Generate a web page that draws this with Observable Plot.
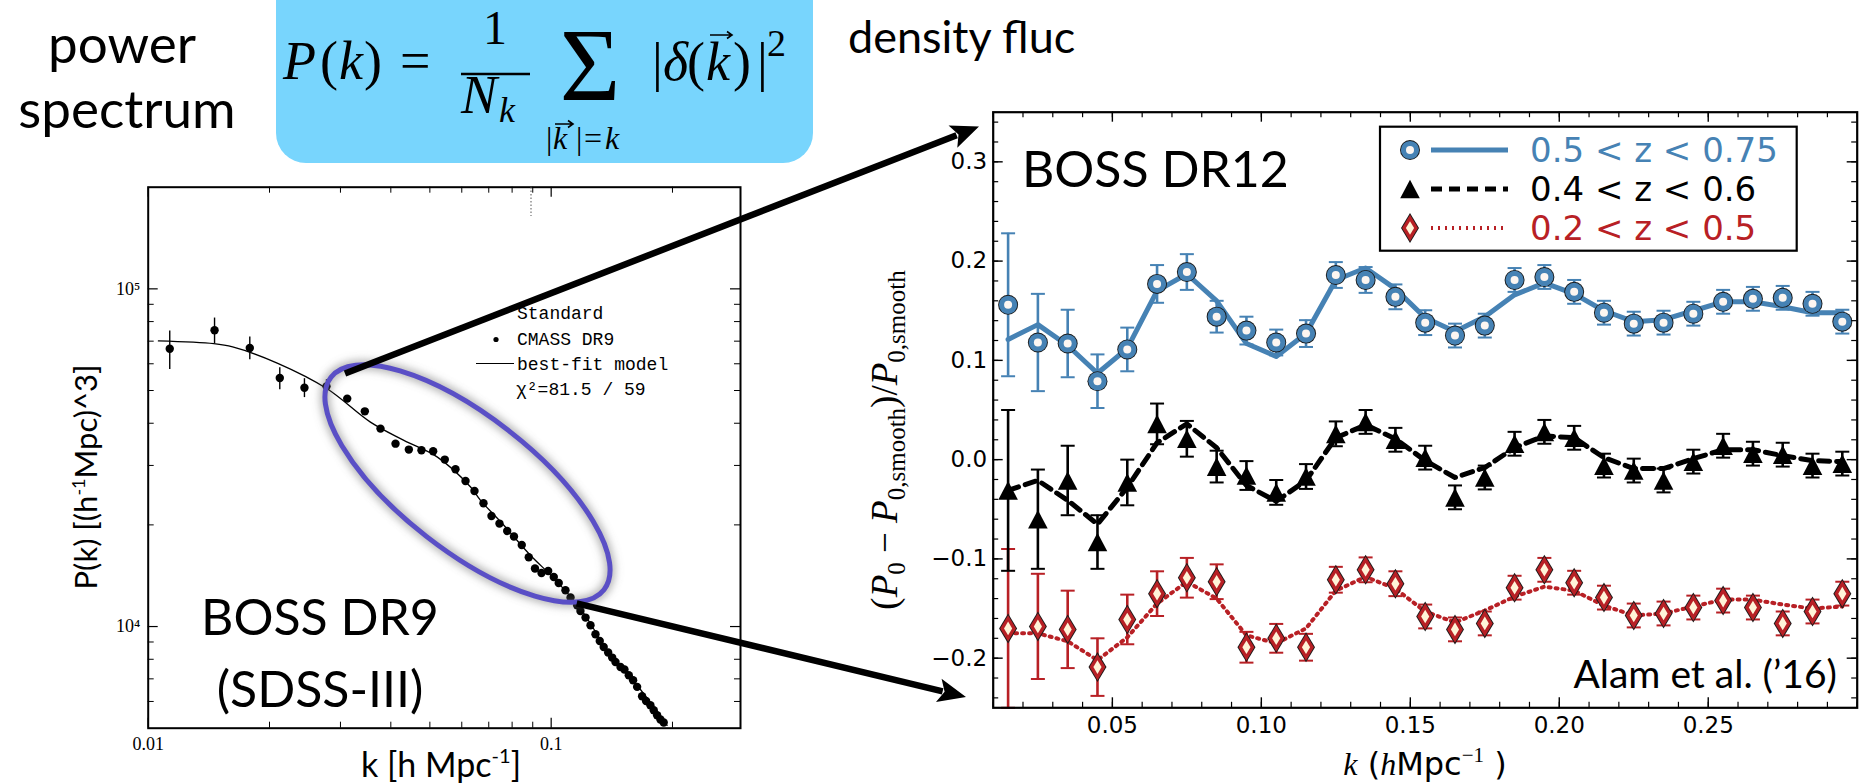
<!DOCTYPE html>
<html>
<head>
<meta charset="utf-8">
<script src="https://cdn.jsdelivr.net/npm/d3@7"></script>
<script src="https://cdn.jsdelivr.net/npm/@observablehq/plot@0.6"></script>
<style>
html, body { margin:0; padding:0; background:#fff; }
#root { position:relative; width:1859px; height:784px; overflow:hidden; background:#fff; }
.panel { position:absolute; top:0; }
.panel svg { display:block; max-width:none !important; }
#overlay { position:absolute; left:0; top:0; }
</style>
</head>
<body>
<div id="root"></div>
<script>
// ================= DATA =================
// Right panel: BOSS DR12 BAO residuals
const bossK = [0.015,0.025,0.035,0.045,0.055,0.065,0.075,0.085,0.095,0.105,0.115,0.125,0.135,0.145,0.155,0.165,0.175,0.185,0.195,0.205,0.215,0.225,0.235,0.245,0.255,0.265,0.275,0.285,0.295];

const highZVal   = [0.156,0.118,0.117,0.079,0.111,0.177,0.189,0.144,0.130,0.118,0.127,0.186,0.181,0.164,0.138,0.125,0.135,0.181,0.184,0.169,0.148,0.137,0.138,0.147,0.159,0.162,0.163,0.157,0.139];
const highZErr   = [0.072,0.049,0.034,0.027,0.022,0.019,0.018,0.016,0.014,0.013,0.0135,0.013,0.013,0.0125,0.0125,0.012,0.012,0.012,0.012,0.012,0.012,0.012,0.012,0.012,0.012,0.012,0.012,0.012,0.012];
const highZModel = [0.121,0.136,0.115,0.087,0.112,0.170,0.187,0.160,0.117,0.104,0.127,0.181,0.193,0.172,0.143,0.129,0.144,0.166,0.178,0.167,0.150,0.139,0.141,0.150,0.159,0.159,0.154,0.148,0.148];

const midZVal   = [-0.031,-0.060,-0.021,-0.083,-0.023,0.036,0.021,-0.007,-0.016,-0.033,-0.017,0.026,0.038,0.020,0.002,-0.038,-0.018,0.016,0.028,0.022,-0.006,-0.011,-0.021,-0.002,0.014,0.006,0.005,-0.006,-0.004];
const midZErr   = [0.081,0.050,0.035,0.027,0.023,0.0205,0.018,0.016,0.0145,0.0125,0.0125,0.0125,0.012,0.012,0.012,0.012,0.012,0.012,0.012,0.012,0.012,0.012,0.012,0.012,0.012,0.012,0.012,0.012,0.012];
const midZModel = [-0.031,-0.021,-0.041,-0.065,-0.028,0.017,0.036,0.012,-0.026,-0.042,-0.021,0.022,0.035,0.021,-0.001,-0.018,-0.008,0.012,0.024,0.022,0.002,-0.009,-0.009,0.001,0.010,0.010,0.004,-0.001,-0.002];

const lowZVal   = [-0.170,-0.168,-0.171,-0.209,-0.161,-0.135,-0.119,-0.123,-0.189,-0.180,-0.189,-0.121,-0.111,-0.125,-0.158,-0.171,-0.165,-0.129,-0.111,-0.124,-0.139,-0.157,-0.155,-0.149,-0.142,-0.149,-0.165,-0.153,-0.135];
const lowZErr   = [0.080,0.053,0.039,0.029,0.025,0.0225,0.020,0.0175,0.0155,0.0145,0.0135,0.013,0.0125,0.0125,0.012,0.012,0.012,0.012,0.012,0.012,0.012,0.012,0.012,0.012,0.012,0.012,0.012,0.012,0.012];
const lowZModel = [-0.175,-0.175,-0.183,-0.202,-0.179,-0.145,-0.123,-0.140,-0.177,-0.185,-0.170,-0.132,-0.118,-0.130,-0.153,-0.164,-0.152,-0.138,-0.128,-0.132,-0.147,-0.157,-0.155,-0.148,-0.141,-0.141,-0.146,-0.150,-0.148];

const seriesNames  = ["0.5 < z < 0.75", "0.4 < z < 0.6", "0.2 < z < 0.5"];
const rightXTicks  = [0.05, 0.10, 0.15, 0.20, 0.25];
const rightYTicks  = [-0.2, -0.1, 0.0, 0.1, 0.2, 0.3];

// Left panel: BOSS DR9 CMASS power spectrum
const dr9K = [0.01131,0.01461,0.01787,0.02121,0.02442,0.02770,0.03118,0.03448,0.03771,0.04109,0.04434,0.04766,0.05095,0.05445,0.05788,0.06130,0.06452,0.06792,0.07110,0.07442,0.07778,0.08085,0.08453,0.08798,0.09116,0.09462,0.09831,0.1015,0.1044,0.1085,0.1117,0.1160,0.1182,0.1217,0.1252,0.1288,0.1320,0.1350,0.1385,0.1417,0.1444,0.1486,0.1520,0.1558,0.1597,0.1634,0.1681,0.1720,0.1763,0.1797,0.1832,0.1867,0.1902];
const dr9P = [66500,75400,66800,54450,50970,51430,47310,43380,38560,34800,33420,33260,33030,31220,29220,26980,25200,23170,21240,20180,19190,18470,17430,16040,14850,14410,14610,14020,13460,12810,12190,11560,11120,10630,10090,9488,9065,8700,8375,8093,7854,7592,7459,7177,6935,6628,6217,6021,5848,5652,5462,5305,5198];
const dr9ErrK  = [0.01131,0.01461,0.01787,0.02121,0.02442,0.02770];
const dr9ErrLo = [57700,68900,61700,50300,47640,48940];
const dr9ErrHi = [75000,81950,72000,58430,54200,53830];
const modelK = [0.0106,0.01455,0.0162,0.0209,0.0278,0.0356,0.0431,0.0521,0.0631,0.0668,0.0763,0.0888,0.1015,0.1182,0.1385,0.1573,0.194];
const modelP = [70100,68800,67300,60300,50600,40300,35600,31800,25900,23650,19950,16260,13900,11300,8450,7100,5100];
const leftXTicks = [0.01, 0.1];
const leftXTickLabels = ["0.01", "0.1"];
const leftYTicks = [1e4, 1e5];
const leftYTickLabels = ["10\u2074", "10\u2075"];
const leftXMinor = [0.02,0.03,0.04,0.05,0.06,0.07,0.08,0.09,0.2];
const leftYMinor = [6000,7000,8000,9000,20000,30000,40000,50000,60000,70000,80000,90000];

// ================= STYLE =================
const GILL  = "Lato, 'Open Sans', sans-serif";
const SERIF = "'Liberation Serif', 'DejaVu Serif', serif";
const MONO  = "'Liberation Mono', 'DejaVu Sans Mono', monospace";
const DEJAVU = "'DejaVu Sans', sans-serif";
const BLUE = "#4682b4", RED = "#b82025", BLACK = "#000";

function makeSymbol(fn){ return { draw(ctx, size){ fn(ctx, Math.sqrt(size / Math.PI)); } }; }
const triangleUp  = makeSymbol((c,r)=>{ c.moveTo(0,-0.95*r); c.lineTo(r,0.95*r); c.lineTo(-r,0.95*r); c.closePath(); });
const thinDiamond = makeSymbol((c,r)=>{ c.moveTo(0,-r); c.lineTo(0.6*r,0); c.lineTo(0,r); c.lineTo(-0.6*r,0); c.closePath(); });
const capBar      = makeSymbol((c,r)=>{ c.moveTo(-r,0); c.lineTo(r,0); });

const seriesStyles = [
  {color: BLUE, lineWidth: 5, dash: null,
   layers: [{symbol: "circle", r: 10, fill: "#1a1a1a"}, {symbol: "circle", r: 9.1, fill: BLUE}, {symbol: "circle", r: 4, fill: "#fdf6f1"}]},
  {color: BLACK, lineWidth: 5, dash: "11 7",
   layers: [{symbol: triangleUp, r: 9.8, fill: "#000"}]},
  {color: RED, lineWidth: 4, dash: "2 5",
   layers: [{symbol: thinDiamond, r: 15, fill: "#1a1a1a"}, {symbol: thinDiamond, r: 13.2, fill: RED}, {symbol: thinDiamond, r: 6.8, fill: "#fff4d8"}]}
];

function rowsOf(vals, errs, model){
  return bossK.map((k,i)=>({k, v: vals[i], lo: vals[i]-errs[i], hi: vals[i]+errs[i], m: model[i]}));
}
const seriesRows = [rowsOf(highZVal, highZErr, highZModel), rowsOf(midZVal, midZErr, midZModel), rowsOf(lowZVal, lowZErr, lowZModel)];

function seriesMarks(rows, s){
  const marks = [
    Plot.line(rows, {x:"k", y:"m", stroke:s.color, strokeWidth:s.lineWidth, strokeDasharray:s.dash}),
    Plot.ruleX(rows, {x:"k", y1:"lo", y2:"hi", stroke:s.color, strokeWidth:2.6}),
    Plot.dot(rows, {x:"k", y:"lo", symbol:capBar, r:7, stroke:s.color, strokeWidth:2, fill:"none"}),
    Plot.dot(rows, {x:"k", y:"hi", symbol:capBar, r:7, stroke:s.color, strokeWidth:2, fill:"none"})
  ];
  s.layers.forEach(L => marks.push(Plot.dot(rows, {x:"k", y:"v", symbol:L.symbol, r:L.r, fill:L.fill, stroke:"none"})));
  return marks;
}

function edgeTicksX(values, len, innerH, sw){
  return [Plot.tickX(values, {x:d=>d, insetBottom: innerH-len, stroke:"black", strokeWidth:sw}),
          Plot.tickX(values, {x:d=>d, insetTop: innerH-len, stroke:"black", strokeWidth:sw})];
}
function edgeTicksY(values, len, innerW, sw){
  return [Plot.tickY(values, {y:d=>d, insetRight: innerW-len, stroke:"black", strokeWidth:sw}),
          Plot.tickY(values, {y:d=>d, insetLeft: innerW-len, stroke:"black", strokeWidth:sw})];
}

const root = document.getElementById("root");

// ================= LEFT PANEL =================
{
  const W = 760, H = 784, ML = 147.7, MR = 20, MT = 186.7, MB = 56.3;
  const iw = W-ML-MR, ih = H-MT-MB;
  const pts = dr9K.map((k,i)=>({k, p: dr9P[i]}));
  const errs = dr9ErrK.map((k,i)=>({k, lo: dr9ErrLo[i], hi: dr9ErrHi[i]}));
  const model = modelK.map((k,i)=>({k, p: modelP[i]}));
  const plot = Plot.plot({
    width: W, height: H, marginLeft: ML, marginRight: MR, marginTop: MT, marginBottom: MB,
    style: {background: "transparent", overflow: "visible"},
    x: {type: "log", domain: [0.01, 0.295]},
    y: {type: "log", domain: [5000, 200000]},
    marks: [
      Plot.line(model, {x:"k", y:"p", stroke:"black", strokeWidth:1.3, curve:"catmull-rom"}),
      Plot.ruleX(errs, {x:"k", y1:"lo", y2:"hi", stroke:"black", strokeWidth:1.4}),
      Plot.dot(pts, {x:"k", y:"p", r:4.2, fill:"black", stroke:"none"}),
      ...edgeTicksX(leftXMinor, 6, ih, 1),
      ...edgeTicksX(leftXTicks, 10, ih, 1.2),
      ...edgeTicksY(leftYMinor, 6, iw, 1),
      ...edgeTicksY(leftYTicks, 10, iw, 1.2),
      Plot.frame({stroke:"black", strokeWidth:2}),
      Plot.axisX({ticks: leftXTicks, tickSize: 0, tickPadding: 9, tickFormat: d => leftXTickLabels[leftXTicks.indexOf(d)], fontSize: 18, fontFamily: SERIF, fill: "black", label: null}),
      Plot.axisY({ticks: leftYTicks, tickSize: 0, tickPadding: 8, tickFormat: d => leftYTickLabels[leftYTicks.indexOf(d)], fontSize: 18, fontFamily: SERIF, fill: "black", label: null})
    ]
  });
  const div = document.createElement("div");
  div.className = "panel"; div.style.left = "0px"; div.style.width = W + "px";
  div.appendChild(plot); root.appendChild(div);
}

// ================= RIGHT PANEL =================
{
  const L = 900, W = 959, H = 784, ML = 92.7, MR = 2.3, MT = 111.7, MB = 76.7;
  const iw = W-ML-MR, ih = H-MT-MB;
  const xMinor = d3.range(1, 31).map(i => i/100);
  const yMinor = d3.range(-12, 18).map(i => i/50);
  const plot = Plot.plot({
    width: W, height: H, marginLeft: ML, marginRight: MR, marginTop: MT, marginBottom: MB,
    style: {background: "transparent", overflow: "visible"},
    x: {domain: [0.01, 0.30]},
    y: {domain: [-0.25, 0.35]},
    marks: [
      ...seriesMarks(seriesRows[2], seriesStyles[2]),
      ...seriesMarks(seriesRows[1], seriesStyles[1]),
      ...seriesMarks(seriesRows[0], seriesStyles[0]),
      ...edgeTicksX(xMinor, 5.5, ih, 1.2),
      ...edgeTicksX(rightXTicks, 10, ih, 1.4),
      ...edgeTicksY(yMinor, 5.5, iw, 1.2),
      ...edgeTicksY(rightYTicks, 10, iw, 1.4),
      Plot.frame({stroke:"black", strokeWidth:2.2}),
      Plot.axisX({ticks: rightXTicks, tickSize: 0, tickPadding: 9, tickFormat: d3.format(".2f"), fontSize: 23, fontFamily: DEJAVU, fill: "black", label: null}),
      Plot.axisY({ticks: rightYTicks, tickSize: 0, tickPadding: 6, tickFormat: d3.format(".1f"), fontSize: 23, fontFamily: DEJAVU, fill: "black", label: null})
    ]
  });
  const div = document.createElement("div");
  div.className = "panel"; div.style.left = L + "px"; div.style.width = W + "px";
  div.appendChild(plot); root.appendChild(div);
}

// ================= OVERLAY (slide annotations) =================
const ov = d3.select(root).append("svg").attr("id","overlay").attr("width",1859).attr("height",784);
const defs = ov.append("defs");
defs.append("filter").attr("id","blur").attr("x","-20%").attr("y","-20%").attr("width","140%").attr("height","140%")
  .append("feGaussianBlur").attr("stdDeviation", 4);

function T(x, y, html, attrs = {}) {
  const t = ov.append("text").attr("x", x).attr("y", y).html(html);
  Object.entries(attrs).forEach(([k,v]) => t.attr(k, v));
  return t;
}
function vecArrow(x0, x1, y){
  ov.append("path").attr("d", `M${x0},${y}L${x1},${y}M${x1-5},${y-3.5}L${x1},${y}L${x1-5},${y+3.5}`)
    .attr("stroke","black").attr("stroke-width",1.6).attr("fill","none");
}

// formula box
ov.append("rect").attr("x",276).attr("y",-30).attr("width",537).attr("height",193).attr("rx",30).attr("fill","#78d5fd");

// "power spectrum" / "density fluc"
T(122, 63, "power", {"font-family":GILL, "font-size":53, "text-anchor":"middle"});
T(127, 128, "spectrum", {"font-family":GILL, "font-size":53, "text-anchor":"middle"});
T(848, 53, "density fluc", {"font-family":GILL, "font-size":45});

// formula P(k) = 1/N_k sum |delta(k)|^2
const F = {"font-family":SERIF, "font-size":54};
T(283, 79, `<tspan font-style="italic">P</tspan>`, F);
T(320, 79, `(`, F);
T(339, 79, `<tspan font-style="italic">k</tspan>`, F);
T(364, 79, `)`, F);
T(400, 79, `=`, F);
T(495, 44, `1`, {"font-family":SERIF, "font-size":48, "text-anchor":"middle"});
ov.append("line").attr("x1",461).attr("x2",530).attr("y1",74).attr("y2",74).attr("stroke","black").attr("stroke-width",2.4);
T(461, 113, `<tspan font-style="italic">N</tspan>`, F);
T(499, 122, `<tspan font-style="italic">k</tspan>`, {"font-family":SERIF, "font-size":36});
T(590, 100, `\u03A3`, {"font-family":SERIF, "font-size":104, "text-anchor":"middle"});
const S = {"font-family":SERIF, "font-size":32};
T(546, 149, `|`, S);
T(553, 149, `<tspan font-style="italic">k</tspan>`, S);
vecArrow(555, 573, 124);
T(576, 149, `|`, S);
T(584, 149, `=`, S);
T(605, 149, `<tspan font-style="italic">k</tspan>`, S);
T(652, 80, `|`, F);
T(663, 80, `<tspan font-style="italic">\u03B4</tspan>`, F);
T(687, 80, `(`, F);
T(706, 80, `<tspan font-style="italic">k</tspan>`, F);
vecArrow(710, 732, 35);
T(733, 80, `)`, F);
T(757, 80, `|`, F);
T(767, 56, `2`, {"font-family":SERIF, "font-size":38});

// ellipse with soft shadow
const E = {cx: 467.5, cy: 483.5, rx: 173, ry: 67, rot: 37.9};
ov.append("ellipse").attr("cx",E.cx).attr("cy",E.cy).attr("rx",E.rx).attr("ry",E.ry)
  .attr("transform",`rotate(${E.rot} ${E.cx} ${E.cy})`).attr("fill","none").attr("stroke","#666").attr("stroke-opacity",0.55)
  .attr("stroke-width",9).attr("filter","url(#blur)");
ov.append("ellipse").attr("cx",E.cx).attr("cy",E.cy).attr("rx",E.rx).attr("ry",E.ry)
  .attr("transform",`rotate(${E.rot} ${E.cx} ${E.cy})`).attr("fill","none").attr("stroke","#5a4fc6").attr("stroke-width",5);

// arrows
function arrow(x0, y0, x1, y1){
  const dx = x1-x0, dy = y1-y0, len = Math.hypot(dx, dy), ux = dx/len, uy = dy/len, nx = -uy, ny = ux;
  const hl = 28, hw = 12;
  const bx = x1 - ux*hl, by = y1 - uy*hl;
  ov.append("line").attr("x1",x0).attr("y1",y0).attr("x2",bx+ux*4).attr("y2",by+uy*4).attr("stroke","black").attr("stroke-width",6.5);
  ov.append("path").attr("d",`M${x1},${y1}L${bx+nx*hw},${by+ny*hw}L${bx+ux*6},${by+uy*6}L${bx-nx*hw},${by-ny*hw}Z`).attr("fill","black");
}
arrow(345, 373.5, 979, 126.5);
arrow(576.7, 603.3, 966, 697);

// small dotted marker at top of the left frame
ov.append("line").attr("x1",531).attr("x2",531).attr("y1",187).attr("y2",216).attr("stroke","#555").attr("stroke-width",1).attr("stroke-dasharray","1.5 2");

// left panel legend (in-chart)
const M = {"font-family":MONO, "font-size":18};
T(517, 319, "Standard", M);
ov.append("circle").attr("cx",496).attr("cy",339.5).attr("r",2.6).attr("fill","black");
T(517, 345, "CMASS DR9", M);
ov.append("line").attr("x1",476).attr("x2",514).attr("y1",363.5).attr("y2",363.5).attr("stroke","black").attr("stroke-width",1.2);
T(517, 370, "best-fit model", M);
T(516, 395, "\u03C7\u00B2=81.5 / 59", M);

// left panel labels
T(320, 635, "BOSS DR9", {"font-family":GILL, "font-size":50, "text-anchor":"middle"});
T(320, 707, "(SDSS-III)", {"font-family":GILL, "font-size":50, "text-anchor":"middle"});
T(441, 777, `k [h Mpc<tspan font-size="20" dy="-14">-1</tspan><tspan dy="14">]</tspan>`, {"font-family":GILL, "font-size":34, "text-anchor":"middle"});
T(0, 0, `P(k)  [(h<tspan font-size="18" dy="-12">-1</tspan><tspan dy="12">Mpc)^3]</tspan>`,
  {"font-family":GILL, "font-size":31, "text-anchor":"middle", transform:"translate(97,477) rotate(-90)"});

// right panel labels
T(1022, 187, "BOSS DR12", {"font-family":GILL, "font-size":50});
T(1837, 688, "Alam et al. (\u201916)", {"font-family":GILL, "font-size":39, "text-anchor":"end"});
T(0, 0, `(<tspan font-style="italic">P</tspan><tspan font-size="25" dy="8">0</tspan><tspan dy="-8"> \u2212 </tspan><tspan font-style="italic">P</tspan><tspan font-size="25" dy="8">0,smooth</tspan><tspan dy="-8">)/</tspan><tspan font-style="italic">P</tspan><tspan font-size="25" dy="8">0,smooth</tspan>`,
  {"font-family":SERIF, "font-size":37, "text-anchor":"middle", transform:"translate(897,440) rotate(-90)"});
T(1425, 775, `<tspan font-family="${SERIF}" font-style="italic">k</tspan> (<tspan font-family="${SERIF}" font-style="italic">h</tspan>Mpc<tspan font-family="${SERIF}" font-size="21" dy="-13">\u22121</tspan><tspan dy="13"> )</tspan>`,
  {"font-family":DEJAVU, "font-size":32, "text-anchor":"middle"});

// right panel legend
{
  const bx = 1380, by = 126.7, bw = 416.7, bh = 124;
  ov.append("rect").attr("x",bx).attr("y",by).attr("width",bw).attr("height",bh).attr("fill","white").attr("stroke","black").attr("stroke-width",2.2);
  const rowY = [150, 189, 228];
  const textColors = [BLUE, BLACK, RED];
  seriesStyles.forEach((s, i) => {
    const y = rowY[i];
    const ln = ov.append("line").attr("x1",1431).attr("x2",1508).attr("y1",y).attr("y2",y).attr("stroke",s.color).attr("stroke-width",s.lineWidth);
    if (s.dash) ln.attr("stroke-dasharray", s.dash);
    s.layers.forEach(L => {
      const sym = typeof L.symbol === "string" ? d3.symbolCircle : L.symbol;
      const p = d3.path(); sym.draw(p, Math.PI * L.r * L.r);
      ov.append("path").attr("d", p.toString()).attr("transform",`translate(1410,${y})`).attr("fill", L.fill);
    });
    T(1530, y + 12, seriesNames[i], {"font-family":DEJAVU, "font-size":34, fill: textColors[i]});
  });
}
</script>
</body>
</html>
